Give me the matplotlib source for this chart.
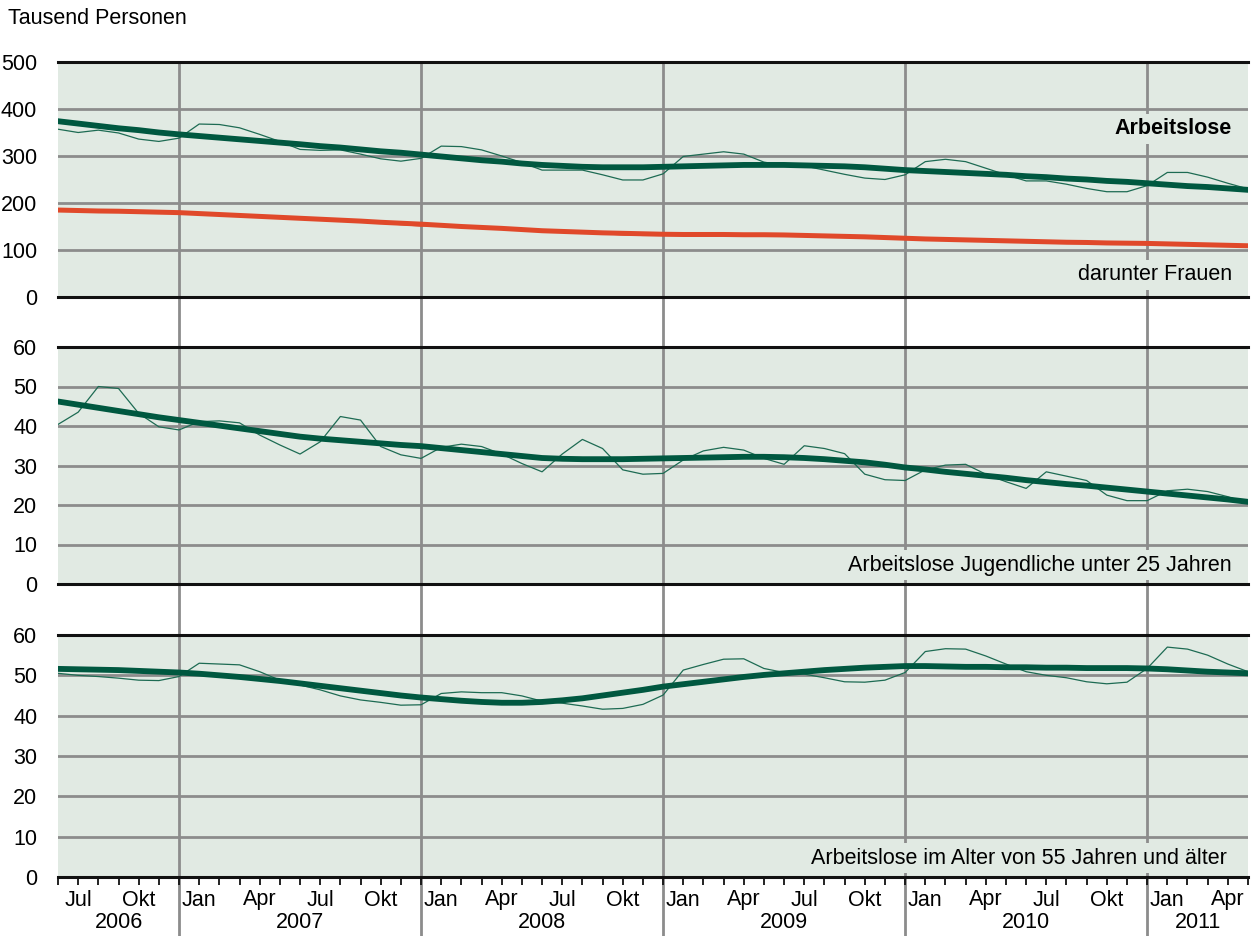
import matplotlib
matplotlib.use('Agg')
import matplotlib.pyplot as plt
from matplotlib.lines import Line2D
from matplotlib.transforms import blended_transform_factory

plt.rcParams['font.family'] = ['Liberation Sans', 'DejaVu Sans']

# monthly series, June 2006 .. May 2011 (thousand persons)
month_abbr = {1: 'Jan', 4: 'Apr', 7: 'Jul', 10: 'Okt'}
years = [2006, 2007, 2008, 2009, 2010, 2011]

arbeitslose = [357, 350, 355, 349, 336, 331, 338, 368, 367, 360, 346, 331, 314, 312, 313, 304, 294, 289, 295,
               321, 320, 313, 300, 286, 270, 270, 270, 260, 249, 249, 262, 299, 304, 309, 304, 287, 280, 279, 270, 261, 253,
               250, 260, 288, 293, 288, 274, 260, 247, 247, 240, 231, 224, 224, 237, 265, 265, 255, 242, 230]
arbeitslose_trend = [374, 369, 364, 359, 355, 350, 346, 342.5, 339, 335.5, 332, 328.5, 325, 321, 318, 314, 310, 307, 303,
                     299, 295, 291, 288, 284, 281, 279, 277, 276, 276, 276, 277, 278, 279, 280, 281, 281, 281, 280, 279, 278, 276,
                     273, 270, 268, 266, 264, 262, 260, 257, 255, 252, 250, 247, 245, 242, 239, 236, 234, 231, 228]
frauen = [184, 183, 183, 182, 180, 179, 178, 179, 177, 174, 171, 168, 166, 164, 162, 160, 157, 154, 151,
          153, 151, 149, 146, 143, 140, 139, 137, 135, 132, 131, 131, 134, 135, 134, 133, 132, 131, 130, 129, 128, 127,
          125, 123, 124, 123, 122, 120, 118, 117, 116, 116, 115, 113, 112, 113, 114, 113, 112, 110, 108]
frauen_trend = [185, 184, 183, 182.5, 181.5, 180.5, 179.5, 177.5, 175.5, 173.5, 171.5, 169.5, 167.5, 165.5, 163.5, 161.5, 159, 157, 155,
                152.5, 150, 148, 146, 143.5, 141, 139.5, 138, 136.5, 135.5, 134.5, 133.5, 133, 133, 133, 132.5, 132.5, 132, 131, 130, 129, 128,
                126.5, 125, 123.5, 122.5, 121.5, 120.5, 119.5, 118.5, 117.5, 116.5, 116, 115, 114.5, 114, 113, 112, 111, 110, 109]

jugendliche = [40.4, 43.5, 50.0, 49.5, 43.2, 39.8, 39.0, 41.1, 41.3, 40.8, 37.7, 35.2, 32.9, 36.0, 42.4, 41.5, 34.8, 32.7, 31.8,
               34.6, 35.4, 34.8, 32.9, 30.5, 28.4, 32.9, 36.6, 34.3, 28.9, 27.8, 28.0, 31.4, 33.7, 34.6, 33.9, 31.8, 30.3, 35.0, 34.3, 33.0, 27.8,
               26.4, 26.2, 28.9, 30.1, 30.3, 27.8, 25.9, 24.2, 28.4, 27.3, 26.2, 22.5, 21.1, 21.1, 23.6, 24.0, 23.4, 22.1, 20.4]
jugendliche_trend = [46.2, 45.4, 44.6, 43.8, 43.0, 42.2, 41.5, 40.8, 40.1, 39.4, 38.7, 38.0, 37.3, 36.8, 36.4, 36.0, 35.6, 35.2, 34.9,
                     34.4, 33.9, 33.4, 32.9, 32.4, 31.9, 31.7, 31.6, 31.6, 31.6, 31.7, 31.8, 31.9, 32.0, 32.1, 32.2, 32.2, 32.1, 31.9, 31.6, 31.2, 30.8,
                     30.2, 29.5, 29.0, 28.4, 27.9, 27.4, 26.9, 26.3, 25.8, 25.3, 24.9, 24.4, 23.9, 23.4, 22.9, 22.4, 21.9, 21.4, 20.8]

aeltere = [50.5, 50.0, 49.7, 49.3, 48.8, 48.7, 49.7, 53.0, 52.8, 52.6, 50.9, 48.8, 47.6, 46.4, 44.9, 43.9, 43.3, 42.6, 42.7,
           45.5, 45.9, 45.7, 45.7, 44.9, 43.6, 43.1, 42.4, 41.6, 41.8, 42.8, 45.1, 51.3, 52.7, 54.0, 54.1, 51.7, 50.7, 50.3, 49.4, 48.4, 48.3,
           48.8, 50.7, 55.9, 56.6, 56.5, 54.8, 52.8, 50.9, 50.0, 49.4, 48.4, 47.9, 48.3, 51.7, 57.0, 56.5, 55.0, 52.8, 50.9]
aeltere_trend = [51.6, 51.5, 51.4, 51.3, 51.1, 50.9, 50.7, 50.4, 50.0, 49.6, 49.1, 48.6, 48.0, 47.4, 46.8, 46.2, 45.6, 45.0, 44.5,
                 44.1, 43.7, 43.4, 43.2, 43.2, 43.4, 43.8, 44.3, 45.0, 45.7, 46.4, 47.2, 47.8, 48.4, 49.0, 49.6, 50.1, 50.5, 50.9, 51.3, 51.6, 51.9,
                 52.1, 52.3, 52.3, 52.2, 52.1, 52.1, 52.0, 52.0, 51.9, 51.9, 51.8, 51.8, 51.8, 51.7, 51.5, 51.2, 50.9, 50.7, 50.5]

BG = '#e1eae3'
GRID = '#8c8c8c'
GREEN = '#005840'
GREEN_THIN = '#1d6b53'
ORANGE = '#e0492a'
FS = 15.5

n = len(arbeitslose)
x = list(range(n))
month_of = [(5 + i) % 12 + 1 for i in x]
year_sep = [i for i in x if month_of[i] == 12]

W, H = 1256, 936
fig = plt.figure(figsize=(W / 100, H / 100), dpi=100)


def make_axes(top, bottom):
    return fig.add_axes([58 / W, 1 - bottom / H, 1190 / W, (bottom - top) / H])


ax1 = make_axes(62, 297)
ax2 = make_axes(347, 584)
ax3 = make_axes(635, 877)

for ax, ymax, step in [(ax1, 500, 100), (ax2, 60, 10), (ax3, 60, 10)]:
    ax.set_facecolor(BG)
    ax.set_xlim(0, n - 1)
    ax.set_ylim(0, ymax)
    ax.set_yticks(range(0, ymax + 1, step))
    ax.yaxis.grid(True, color=GRID, lw=2)
    ax.set_axisbelow(True)
    for i in year_sep:
        ax.axvline(i, color=GRID, lw=2, zorder=0.6)
    ax.spines['left'].set_visible(False)
    ax.spines['right'].set_visible(False)
    for s in ['top', 'bottom']:
        ax.spines[s].set_color('#111111')
        ax.spines[s].set_linewidth(2.2)
    ax.tick_params(axis='y', length=0, pad=15, labelsize=FS)
    ax.set_xticks([])

# year separators running through the gaps and the label area
trans = blended_transform_factory(ax3.transData, fig.transFigure)
for i in year_sep:
    fig.add_artist(Line2D([i, i], [0, 1 - 62 / H], transform=trans, color=GRID, lw=2, zorder=-1))

# panel 1
ax1.plot(x, arbeitslose, color=GREEN_THIN, lw=0.9)
ax1.plot(x, frauen, color=ORANGE, lw=0.9)
ax1.plot(x, frauen_trend, color=ORANGE, lw=3.6)
ax1.plot(x, arbeitslose_trend, color=GREEN, lw=4.2)

# panel 2
ax2.plot(x, jugendliche, color=GREEN_THIN, lw=0.9)
ax2.plot(x, jugendliche_trend, color=GREEN, lw=4.2)

# panel 3
ax3.plot(x, aeltere, color=GREEN_THIN, lw=0.9)
ax3.plot(x, aeltere_trend, color=GREEN, lw=4.2)

box = dict(facecolor=BG, edgecolor='none', pad=3)
ax1.text(0.9866, 0.715, 'Arbeitslose', transform=ax1.transAxes, ha='right', va='center',
         fontsize=FS, fontweight='bold', bbox=box, zorder=5)
ax1.text(0.9866, 0.094, 'darunter Frauen', transform=ax1.transAxes, ha='right', va='center',
         fontsize=FS, bbox=box, zorder=5)
ax2.text(0.9866, 0.08, 'Arbeitslose Jugendliche unter 25 Jahren', transform=ax2.transAxes,
         ha='right', va='center', fontsize=FS, bbox=box, zorder=5)
ax3.text(0.9825, 0.0785, 'Arbeitslose im Alter von 55 Jahren und älter', transform=ax3.transAxes,
         ha='right', va='center', fontsize=FS, bbox=box, zorder=5)

# month axis
ax3.set_xticks(x)
ax3.set_xticklabels([month_abbr.get(m, '') for m in month_of])
ax3.tick_params(axis='x', length=6, width=1.3, color='#111111', direction='out', pad=3, labelsize=FS)

bounds = [0] + year_sep + [n - 1]
for k, yr in enumerate(years):
    ax3.text((bounds[k] + bounds[k + 1]) / 2, -0.188, str(yr), transform=ax3.get_xaxis_transform(),
             ha='center', va='center', fontsize=FS)

fig.text(8 / W, 1 - 18 / H, 'Tausend Personen', ha='left', va='center', fontsize=FS)

fig.savefig('out.png', dpi=100)
